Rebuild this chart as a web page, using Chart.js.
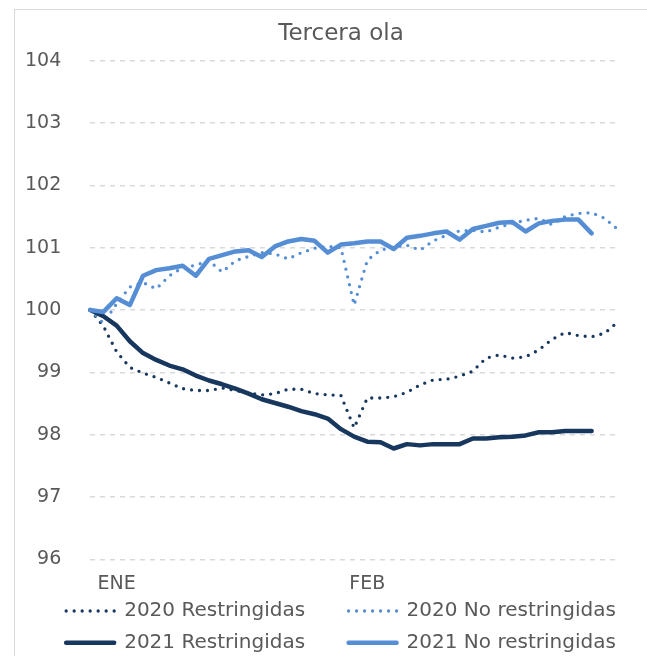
<!DOCTYPE html>
<html>
<head>
<meta charset="utf-8">
<script src="https://cdn.jsdelivr.net/npm/chart.js@4.4.1/dist/chart.umd.min.js"></script>
<style>
  html, body { margin: 0; padding: 0; background: #fff; overflow: hidden; }
  #marco { position: absolute; left: 14px; top: 9px; width: 700px; height: 700px; border: 1px solid #d9d9d9; }
  #grafico { position: absolute; left: -20px; top: 0; }
</style>
</head>
<body>
<div id="marco"></div>
<canvas id="grafico" width="706" height="683"></canvas>
<script>
// etiquetas del eje x (dias habiles), solo se muestran los meses
const dias = ['', '', 'ENE', '', '', '', '', '', '', '', '', '', '', '', '', '', '', '', '', '', '',
  'FEB', '', '', '', '', '', '', '', '', '', '', '', '', '', '', '', '', '', '', ''];

const restringidas2020 = [100.0, 99.74, 99.33, 99.08, 98.99, 98.92, 98.83, 98.74, 98.71, 98.71,
  98.75, 98.71, 98.67, 98.64, 98.66, 98.73, 98.73, 98.66, 98.64, 98.63,
  98.11, 98.59, 98.59, 98.61, 98.68, 98.80, 98.88, 98.89, 98.94, 99.02,
  99.23, 99.28, 99.23, 99.25, 99.36, 99.53, 99.64, 99.59, 99.57, 99.63, 99.81];

const noRestringidas2020 = [100.0, 99.79, 100.1, 100.37, 100.44, 100.34, 100.55, 100.68, 100.72, 100.79,
  100.61, 100.79, 100.86, 100.92, 100.90, 100.82, 100.92, 100.99, 101.02, 101.0,
  100.08, 100.8, 100.96, 101.01, 101.04, 100.96, 101.11, 101.2, 101.27, 101.28,
  101.25, 101.33, 101.39, 101.44, 101.47, 101.37, 101.5, 101.55, 101.56, 101.47, 101.29];

const restringidas2021 = [100.0, 99.90, 99.75, 99.50, 99.31, 99.20, 99.11, 99.05, 98.95, 98.87,
  98.81, 98.74, 98.66, 98.57, 98.51, 98.45, 98.38, 98.33, 98.26, 98.09,
  97.97, 97.89, 97.88, 97.78, 97.85, 97.83, 97.85, 97.85, 97.85, 97.94,
  97.94, 97.96, 97.97, 97.99, 98.04, 98.04, 98.06, 98.06, 98.06];

const noRestringidas2021 = [100.0, 99.97, 100.19, 100.08, 100.55, 100.64, 100.67, 100.71, 100.55, 100.82,
  100.88, 100.94, 100.96, 100.85, 101.02, 101.10, 101.14, 101.11, 100.92, 101.05,
  101.07, 101.10, 101.10, 100.98, 101.16, 101.19, 101.23, 101.26, 101.13, 101.30,
  101.35, 101.40, 101.41, 101.26, 101.39, 101.43, 101.45, 101.45, 101.23];

const yMin = 96;
const yMax = 104;

const oscuro = '#17375e';
const claro = '#558ed5';
const gris = '#595959';

Chart.defaults.font.family = "'DejaVu Sans', sans-serif";
Chart.defaults.color = gris;

// la leyenda queda pegada a las etiquetas ENE/FEB, como en el original
const subirLeyenda = {
  id: 'subirLeyenda',
  afterLayout(chart) {
    const l = chart.legend;
    if (!l) return;
    l.top -= 20.25;
    l.bottom -= 20.25;
  }
};

const ctx = document.getElementById('grafico').getContext('2d');
const chart = new Chart(ctx, {
  type: 'line',
  data: {
    labels: dias,
    datasets: [{
      label: '2020 Restringidas',
      data: restringidas2020,
      borderColor: oscuro,
      backgroundColor: oscuro,
      borderWidth: 3.3,
      borderDash: [0, 8],
      borderCapStyle: 'round',
      order: 4
    }, {
      label: '2020 No restringidas',
      data: noRestringidas2020,
      borderColor: claro,
      backgroundColor: claro,
      borderWidth: 3.3,
      borderDash: [0, 8],
      borderCapStyle: 'round',
      order: 3
    }, {
      label: '2021 Restringidas',
      data: restringidas2021,
      borderColor: oscuro,
      backgroundColor: oscuro,
      borderWidth: 4.5,
      borderCapStyle: 'round',
      borderJoinStyle: 'round',
      order: 2
    }, {
      label: '2021 No restringidas',
      data: noRestringidas2021,
      borderColor: claro,
      backgroundColor: claro,
      borderWidth: 4.5,
      borderCapStyle: 'round',
      borderJoinStyle: 'round',
      order: 1
    }]
  },
  options: {
    responsive: false,
    animation: false,
    layout: { padding: { left: 16, right: 0, top: 0, bottom: 0 } },
    elements: { point: { radius: 0 }, line: { tension: 0 } },
    plugins: {
      tooltip: { enabled: false },
      title: {
        display: true,
        text: 'Tercera ola',
        color: gris,
        font: { size: 23, weight: 'normal' },
        padding: { top: 20, bottom: 13 }
      },
      legend: {
        position: 'bottom',
        labels: {
          font: { size: 20 },
          color: gris,
          boxWidth: 48,
          boxHeight: 0,
          padding: 11.75,
          generateLabels: function (c) {
            const items = Chart.defaults.plugins.legend.labels.generateLabels(c);
            items.sort((a, b) => a.datasetIndex - b.datasetIndex);
            items.forEach(function (it) {
              // la primera columna lleva espacio extra, como en la leyenda original
              if (it.datasetIndex % 2 === 0) it.text = it.text + '     ';
            });
            return items;
          }
        }
      }
    },
    scales: {
      x: {
        grid: { display: false, drawTicks: false },
        border: { display: false },
        ticks: { autoSkip: false, maxRotation: 0, padding: 13.6, font: { size: 19 }, color: gris }
      },
      y: {
        min: yMin,
        max: yMax,
        grid: { color: '#d9d9d9', lineWidth: 1.5, drawTicks: false },
        border: { display: false, dash: [5, 5] },
        ticks: { stepSize: 1, padding: 29, font: { size: 19 }, color: gris }
      },
      // eje vacio a la derecha: solo reserva el margen del marco
      y2: {
        type: 'linear',
        position: 'right',
        grid: { display: false, drawTicks: false },
        border: { display: false },
        ticks: { display: false },
        afterFit: function (scale) { scale.width = 68; }
      }
    }
  },
  plugins: [subirLeyenda]
});
</script>
</body>
</html>
